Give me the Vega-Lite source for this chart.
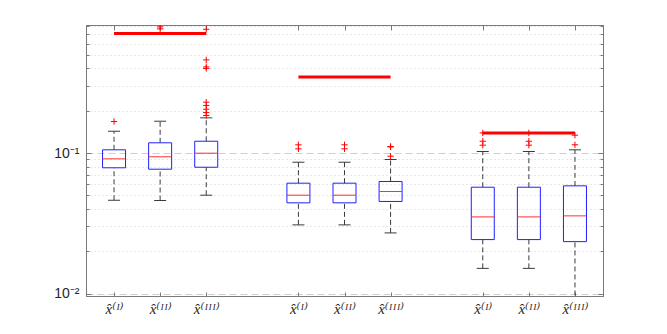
{
  "$schema": "https://vega.github.io/schema/vega-lite/v6.json",
  "width": 517,
  "height": 271,
  "autosize": "none",
  "padding": {"left": 86, "top": 25, "right": 64, "bottom": 38},
  "background": "white",
  "config": {
    "view": {"stroke": "#7a7a7a", "strokeWidth": 1},
    "axis": {"domainColor": "#7a7a7a", "tickColor": "#7a7a7a", "labelColor": "#262626", "title": null}
  },
  "datasets": {
    "boxes": [
      {"group": "A", "estimator": "I", "slot": 1, "lo": 0.0461, "q1": 0.0785, "med": 0.0909, "q3": 0.1054, "hi": 0.1429},
      {"group": "A", "estimator": "II", "slot": 2, "lo": 0.0459, "q1": 0.0767, "med": 0.094, "q3": 0.1182, "hi": 0.1684},
      {"group": "A", "estimator": "III", "slot": 3, "lo": 0.0501, "q1": 0.0792, "med": 0.0997, "q3": 0.1213, "hi": 0.178},
      {"group": "B", "estimator": "I", "slot": 5, "lo": 0.0308, "q1": 0.0442, "med": 0.0501, "q3": 0.061, "hi": 0.086},
      {"group": "B", "estimator": "II", "slot": 6, "lo": 0.0308, "q1": 0.0442, "med": 0.0501, "q3": 0.061, "hi": 0.086},
      {"group": "B", "estimator": "III", "slot": 7, "lo": 0.027, "q1": 0.0452, "med": 0.0532, "q3": 0.0627, "hi": 0.0899},
      {"group": "C", "estimator": "I", "slot": 9, "lo": 0.0151, "q1": 0.0242, "med": 0.0351, "q3": 0.0571, "hi": 0.1025},
      {"group": "C", "estimator": "II", "slot": 10, "lo": 0.0151, "q1": 0.0242, "med": 0.0351, "q3": 0.0571, "hi": 0.1025},
      {"group": "C", "estimator": "III", "slot": 11, "lo": 0.0085, "q1": 0.0234, "med": 0.0357, "q3": 0.0584, "hi": 0.1054}
    ],
    "outliers": [
      {"slot": 1, "value": 0.1675},
      {"slot": 2, "value": 0.79},
      {"slot": 2, "value": 0.765},
      {"slot": 3, "value": 0.76},
      {"slot": 3, "value": 0.46},
      {"slot": 3, "value": 0.41},
      {"slot": 3, "value": 0.4},
      {"slot": 3, "value": 0.23},
      {"slot": 3, "value": 0.218},
      {"slot": 3, "value": 0.205},
      {"slot": 3, "value": 0.194},
      {"slot": 3, "value": 0.185},
      {"slot": 5, "value": 0.1144},
      {"slot": 5, "value": 0.1071},
      {"slot": 6, "value": 0.1144},
      {"slot": 6, "value": 0.1071},
      {"slot": 7, "value": 0.1112},
      {"slot": 7, "value": 0.1105},
      {"slot": 7, "value": 0.0949},
      {"slot": 9, "value": 0.139},
      {"slot": 9, "value": 0.1213},
      {"slot": 9, "value": 0.1137},
      {"slot": 10, "value": 0.139},
      {"slot": 10, "value": 0.1213},
      {"slot": 10, "value": 0.1137},
      {"slot": 11, "value": 0.1339},
      {"slot": 11, "value": 0.1144}
    ],
    "refs": [
      {"group": "A", "from": 1, "to": 3, "value": 0.709},
      {"group": "B", "from": 5, "to": 7, "value": 0.348},
      {"group": "C", "from": 9, "to": 11, "value": 0.139}
    ]
  },
  "resolve": {"axis": {"x": "independent", "y": "independent"}},
  "layer": [
    {
      "data": {"name": "boxes"},
      "mark": {"type": "rule", "stroke": "#3a3a3a", "strokeWidth": 1, "strokeDash": [5, 3], "clip": true},
      "encoding": {
        "x": {"field": "slot", "type": "quantitative", "scale": {"domain": [0.5, 11.5], "nice": false, "zero": false},
          "axis": {"orient": "bottom", "values": [1, 2, 3, 5, 6, 7, 9, 10, 11], "grid": false, "tickSize": -4, "labelPadding": 9,
            "labelFont": "Liberation Serif, DejaVu Serif", "labelFontStyle": "italic", "labelFontSize": 15,
            "labelExpr": "datum.value % 4 == 1 ? 'x\u0302\u207D\u1D35\u207E' : datum.value % 4 == 2 ? 'x\u0302\u207D\u1D35\u1D35\u207E' : 'x\u0302\u207D\u1D35\u1D35\u1D35\u207E'"}},
        "y": {"field": "q3", "type": "quantitative", "scale": {"type": "log", "domain": [0.0096, 0.815], "nice": false},
          "axis": {"orient": "left",
            "values": [0.01, 0.02, 0.03, 0.04, 0.05, 0.06, 0.07, 0.08, 0.09, 0.1, 0.2, 0.3, 0.4, 0.5, 0.6, 0.7, 0.8],
            "labelExpr": "abs(datum.value - 0.1) < 1e-9 ? '10\u207B\u00B9' : abs(datum.value - 0.01) < 1e-9 ? '10\u207B\u00B2' : ''",
            "labelFont": "Liberation Sans", "labelFontSize": 14, "labelPadding": 12,
            "grid": true, "gridColor": "#cfcfcf", "gridWidth": 1,
            "gridDash": {"condition": {"test": "abs(datum.value - 0.1) < 1e-9 || abs(datum.value - 0.01) < 1e-9", "value": [7, 4]}, "value": [1, 3]},
            "tickSize": {"condition": {"test": "abs(datum.value - 0.1) < 1e-9 || abs(datum.value - 0.01) < 1e-9", "value": -5}, "value": -3}}},
        "y2": {"field": "hi"}
      }
    },
    {
      "data": {"name": "boxes"},
      "mark": {"type": "rule", "stroke": "#3a3a3a", "strokeWidth": 1, "strokeDash": [5, 3], "clip": true},
      "encoding": {
        "x": {"field": "slot", "type": "quantitative", "axis": null},
        "y": {"field": "lo", "type": "quantitative", "axis": null},
        "y2": {"field": "q1"}
      }
    },
    {
      "data": {"name": "boxes"},
      "mark": {"type": "tick", "orient": "horizontal", "size": 12, "thickness": 1, "color": "#3a3a3a", "opacity": 1, "clip": true},
      "encoding": {
        "x": {"field": "slot", "type": "quantitative", "axis": null},
        "y": {"field": "hi", "type": "quantitative", "axis": null}
      }
    },
    {
      "data": {"name": "boxes"},
      "mark": {"type": "tick", "orient": "horizontal", "size": 12, "thickness": 1, "color": "#3a3a3a", "opacity": 1, "clip": true},
      "encoding": {
        "x": {"field": "slot", "type": "quantitative", "axis": null},
        "y": {"field": "lo", "type": "quantitative", "axis": null}
      }
    },
    {
      "data": {"name": "boxes"},
      "mark": {"type": "bar", "size": 23, "fill": "white", "fillOpacity": 0, "stroke": "#2020ff", "strokeWidth": 1, "clip": true},
      "encoding": {
        "x": {"field": "slot", "type": "quantitative", "axis": null},
        "y": {"field": "q1", "type": "quantitative", "axis": null},
        "y2": {"field": "q3"}
      }
    },
    {
      "data": {"name": "boxes"},
      "mark": {"type": "tick", "orient": "horizontal", "size": 23, "thickness": 1, "color": "#ff3030", "opacity": 1},
      "encoding": {
        "x": {"field": "slot", "type": "quantitative", "axis": null},
        "y": {"field": "med", "type": "quantitative", "axis": null}
      }
    },
    {
      "data": {"name": "refs"},
      "mark": {"type": "rule", "stroke": "#ff0000", "strokeWidth": 3},
      "encoding": {
        "x": {"field": "from", "type": "quantitative",
          "axis": {"orient": "top", "values": [1, 2, 3, 5, 6, 7, 9, 10, 11], "labels": false, "grid": false, "tickSize": -5, "domain": true}},
        "x2": {"field": "to"},
        "y": {"field": "value", "type": "quantitative",
          "axis": {"orient": "right", "labels": false, "grid": false,
            "values": [0.01, 0.02, 0.03, 0.04, 0.05, 0.06, 0.07, 0.08, 0.09, 0.1, 0.2, 0.3, 0.4, 0.5, 0.6, 0.7, 0.8],
            "tickSize": {"condition": {"test": "abs(datum.value - 0.1) < 1e-9 || abs(datum.value - 0.01) < 1e-9", "value": -5}, "value": -3}}}
      }
    },
    {
      "data": {"name": "outliers"},
      "mark": {"type": "point", "shape": "M-1,0L1,0M0,-1L0,1", "filled": false, "stroke": "#ff0000", "strokeWidth": 1, "size": 40, "opacity": 1, "clip": true},
      "encoding": {
        "x": {"field": "slot", "type": "quantitative", "axis": null},
        "y": {"field": "value", "type": "quantitative", "axis": null}
      }
    }
  ]
}
